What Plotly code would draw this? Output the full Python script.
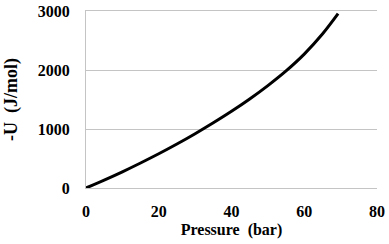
import plotly.graph_objects as go

pressure = [0, 5, 10, 15, 20, 25, 30, 35, 40, 45, 50, 55, 60, 65, 69.3]
neg_u = [0, 134, 275, 424, 580, 745, 920, 1105, 1300, 1509, 1736, 1985, 2270, 2610, 2955]

x_ticks = [0, 20, 40, 60, 80]
y_ticks = [0, 1000, 2000, 3000]

font_family = "Liberation Serif, Times New Roman, serif"
grid = "#c4c4c4"

fig = go.Figure()
fig.add_trace(go.Scatter(
    x=pressure, y=neg_u, mode="lines",
    line=dict(color="black", width=3, shape="spline"),
    showlegend=False, cliponaxis=False, hoverinfo="skip",
))

fig.update_layout(
    width=389, height=244,
    margin=dict(l=86, r=12, t=11, b=56),
    paper_bgcolor="white", plot_bgcolor="white",
    font=dict(family=font_family, size=16, color="black"),
)
fig.update_xaxes(
    range=[0, 80], tickvals=x_ticks, ticktext=[f"<b>{v}</b>" for v in x_ticks],
    showgrid=False, zeroline=False, showline=True, mirror=True,
    linecolor=grid, linewidth=1, automargin=False,
    ticks="", ticklabelstandoff=9, ticklabeloverflow="allow",
    title=dict(text="<b>Pressure  (bar)</b>", font=dict(size=16), standoff=4),
)
fig.update_yaxes(
    range=[0, 3000], tickvals=y_ticks, ticktext=[f"<b>{v}</b>" for v in y_ticks],
    showgrid=True, gridcolor=grid, gridwidth=1,
    zeroline=False, showline=True, linecolor=grid, linewidth=1,
    ticks="", ticklabelstandoff=12, automargin=False, ticklabeloverflow="allow",
    title=dict(text="<b>-U  (J/mol)</b>", font=dict(size=18), standoff=15),
)

fig.write_html(
    "out.html",
    config={"displayModeBar": False, "staticPlot": True},
    post_script="document.body.style.margin='0';document.body.style.overflow='hidden';",
)
